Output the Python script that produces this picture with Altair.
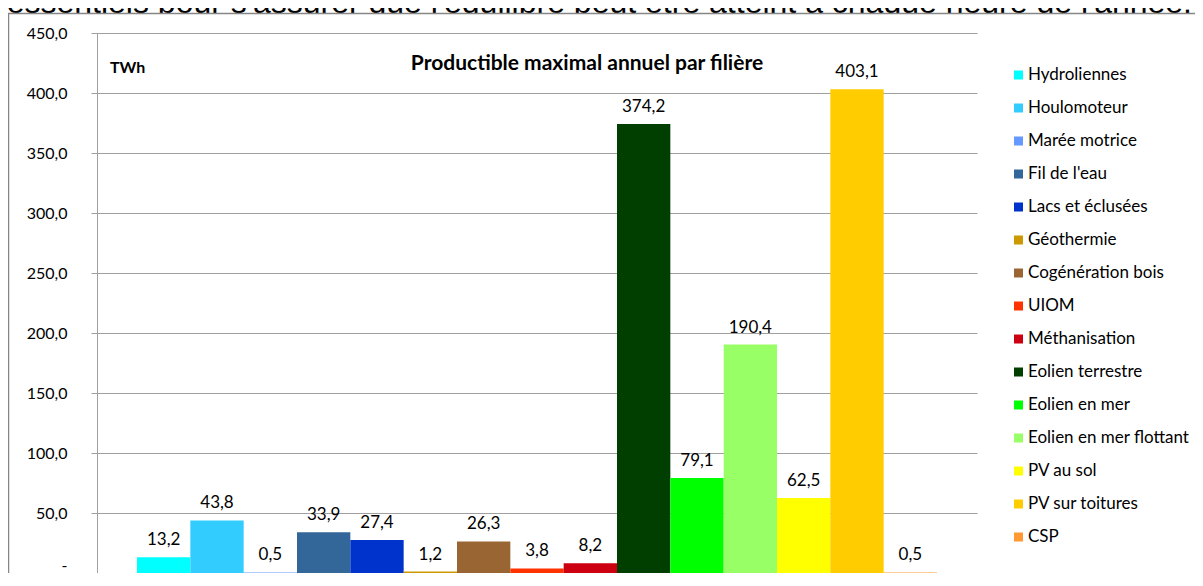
import altair as alt
import pandas as pd

series = ["Hydroliennes", "Houlomoteur", "Marée motrice", "Fil de l'eau",
          "Lacs et éclusées", "Géothermie", "Cogénération bois", "UIOM",
          "Méthanisation", "Eolien terrestre", "Eolien en mer",
          "Eolien en mer flottant", "PV au sol", "PV sur toitures", "CSP"]
values = [13.2, 43.8, 0.5, 33.9, 27.4, 1.2, 26.3, 3.8, 8.2,
          374.2, 79.1, 190.4, 62.5, 403.1, 0.5]
colors = ["#00FFFF", "#33CCFF", "#6699FF", "#336699", "#0033CC", "#CC9900",
          "#996633", "#FF3300", "#CC0011", "#003F00", "#00FF00", "#99FF66",
          "#FFFF00", "#FFCC00", "#FF9933"]
y_ticks = [0, 50, 100, 150, 200, 250, 300, 350, 400, 450]

chart_title = "Productible maximal annuel par filière"
unit_label = "TWh"
slide_text = "essentiels pour s'assurer que l'équilibre peut être atteint à chaque heure de l'année."

df = pd.DataFrame({"filiere": series, "value": values})

FONT = "Lato"
GRID = "#A0A0A0"

base = alt.Chart(df).transform_calculate(
    label="replace(format(datum.value, '.1f'), '.', ',')"
)

x_enc = alt.X("filiere:N", sort=series,
              scale=alt.Scale(domain=series, paddingInner=0, paddingOuter=0.75),
              axis=None)
y_enc = alt.Y("value:Q",
              scale=alt.Scale(domain=[0, 450], nice=False, zero=True),
              axis=alt.Axis(values=y_ticks, title=None, grid=True,
                            gridColor=GRID, gridWidth=1,
                            domainColor=GRID, tickColor=GRID, tickSize=6,
                            labelPadding=24, labelFont=FONT, labelFontSize=16,
                            labelColor="#000000",
                            labelBaseline=alt.condition("datum.value == 0",
                                                        alt.value("bottom"),
                                                        alt.value("middle")),
                            labelExpr="datum.value == 0 ? '-' : replace(format(datum.value, '.1f'), '.', ',')"))

bars = base.mark_bar().encode(
    x=x_enc,
    y=y_enc,
    color=alt.Color("filiere:N",
                    scale=alt.Scale(domain=series, range=colors),
                    legend=alt.Legend(orient="none", legendX=913, legendY=33.5,
                                      title=None, symbolType="square",
                                      symbolSize=81, symbolStrokeWidth=0,
                                      labelFont=FONT, labelFontSize=17,
                                      labelColor="#000000", rowPadding=15,
                                      labelOffset=1, padding=0, labelLimit=300)),
)

labels = base.mark_text(baseline="alphabetic", dy=-12, font=FONT,
                        fontSize=17, color="#000000").encode(
    x=x_enc,
    y=alt.Y("value:Q"),
    text="label:N",
)

title_mark = alt.Chart(pd.DataFrame({"t": [chart_title]})).mark_text(
    font=FONT, fontSize=21, fontWeight="bold", align="center",
    baseline="alphabetic", color="#000000"
).encode(x=alt.value(490), y=alt.value(37), text="t:N")

unit_mark = alt.Chart(pd.DataFrame({"u": [unit_label]})).mark_text(
    font=FONT, fontSize=16, fontWeight="bold", align="left",
    baseline="alphabetic", color="#000000"
).encode(x=alt.value(13), y=alt.value(40), text="u:N")

slide_mark = alt.Chart(pd.DataFrame({"s": [slide_text]})).mark_text(
    font="Liberation Sans", fontSize=32, align="right",
    baseline="alphabetic", color="#000000"
).encode(x=alt.value(1095), y=alt.value(-20), text="s:N")

mask = alt.Chart(pd.DataFrame({"m": [0]})).mark_rect(
    fill="#FFFFFF", strokeWidth=0
).encode(x=alt.value(-90), x2=alt.value(1400),
         y=alt.value(-19.5), y2=alt.value(-8))

frame = alt.Chart(pd.DataFrame({"f": [0]})).mark_rect(
    filled=False, stroke="#868686", strokeWidth=1.5
).encode(x=alt.value(-88.5), x2=alt.value(1400),
         y=alt.value(-19.5), y2=alt.value(800))

chart = alt.layer(slide_mark, mask, frame, bars, labels, title_mark, unit_mark).properties(
    width=880, height=540,
    padding={"left": 89, "top": 25, "right": 218, "bottom": 0},
    autosize=alt.AutoSizeParams(type="none"),
).configure_view(stroke="transparent")

chart.save("out.html", embed_options={"renderer": "svg", "actions": False})
